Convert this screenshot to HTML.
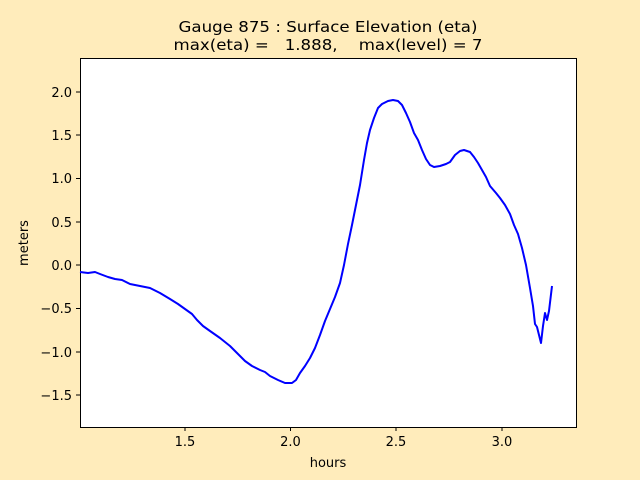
<!DOCTYPE html>
<html><head><style>body{margin:0;background:#ffecbb;}svg{display:block;font-family:"DejaVu Sans","Liberation Sans",sans-serif;}</style></head><body>
<svg width="640" height="480" viewBox="0 0 640 480">
<rect width="640" height="480" fill="#ffecbb"/>
<rect x="80.5" y="58.5" width="496" height="369" fill="#fff" stroke="#000" stroke-width="1"/>
<g stroke="#000" stroke-width="1">
<line x1="185" y1="427" x2="185" y2="431"/><line x1="290.5" y1="427" x2="290.5" y2="431"/><line x1="396" y1="427" x2="396" y2="431"/><line x1="502" y1="427" x2="502" y2="431"/>
<line x1="76" y1="92" x2="80" y2="92"/><line x1="76" y1="135" x2="80" y2="135"/><line x1="76" y1="178.5" x2="80" y2="178.5"/><line x1="76" y1="222" x2="80" y2="222"/><line x1="76" y1="265" x2="80" y2="265"/><line x1="76" y1="308.5" x2="80" y2="308.5"/><line x1="76" y1="352" x2="80" y2="352"/><line x1="76" y1="395" x2="80" y2="395"/>
</g>
<g font-size="13" text-anchor="middle" fill="#000">
<text x="185" y="446">1.5</text><text x="290.5" y="446">2.0</text><text x="396" y="446">2.5</text><text x="502" y="446">3.0</text>
<text x="328" y="467">hours</text>
</g>
<g font-size="13" text-anchor="end" fill="#000">
<text x="72" y="97">2.0</text><text x="72" y="140">1.5</text><text x="72" y="183">1.0</text><text x="72" y="227">0.5</text><text x="72" y="270">0.0</text><text x="72" y="313">−0.5</text><text x="72" y="357">−1.0</text><text x="72" y="400">−1.5</text>
</g>
<text transform="translate(28,243) rotate(-90)" font-size="13" text-anchor="middle">meters</text>
<g font-size="15" text-anchor="middle">
<text x="328" y="32" textLength="299" lengthAdjust="spacingAndGlyphs">Gauge 875 : Surface Elevation (eta)</text>
<text x="328" y="50" xml:space="preserve" textLength="309" lengthAdjust="spacingAndGlyphs">max(eta) =   1.888,    max(level) = 7</text>
</g>
<polyline fill="none" stroke="#0000ff" stroke-width="2" stroke-linejoin="round" points="80,272 88,273 95,272 100,274 108,277 115,279 122,280 130,284 140,286 145,287 150,288 160,293 170,299 178,304 185,309 192,314 197,320 203,326 210,331 220,338 230,346 238,354 245,361 252,366 260,370 265,372 270,376 278,380 285,383 292,383 296,380 300,373 305,366 310,358 315,348 320,335 325,321 330,309 335,297 340,283 344,265 348,244 352,225 356,205 360,185 364,160 367,143 370,130 374,118 378,108 382,104 388,101 393,100 398,101 402,105 406,113 410,122 414,133 418,140 422,150 426,159 430,165 434,167 440,166 446,164 450,162 455,155 460,151 464,150 470,152 474,157 478,163 482,170 486,177 490,186 496,193 500,198 505,205 510,214 514,225 518,234 522,248 526,265 530,288 533,306 535,324 537,327 539,335 541,343 543,326 545,313 547,320 549,311 552,286"/>
</svg>
</body></html>
